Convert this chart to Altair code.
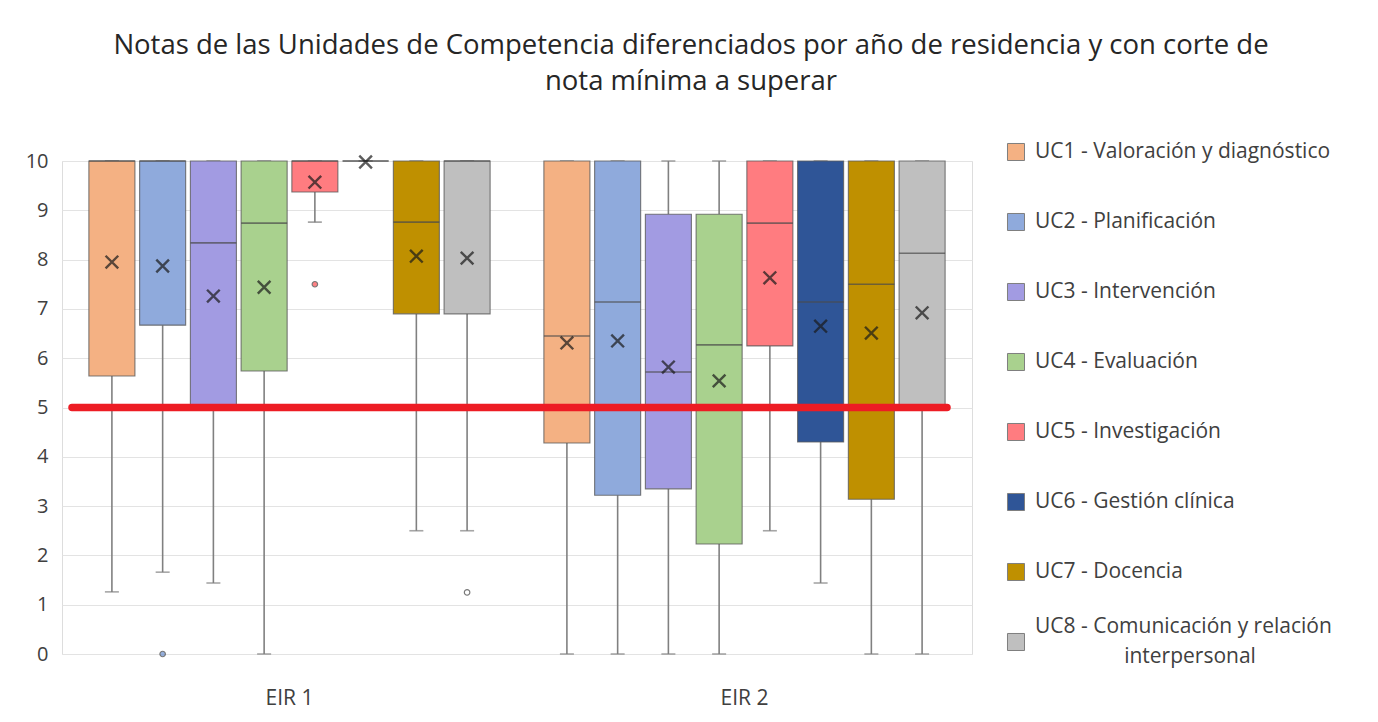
import altair as alt
import pandas as pd

groups = ["EIR 1", "EIR 2"]
ucs = [
    "UC1 - Valoración y diagnóstico",
    "UC2 - Planificación",
    "UC3 - Intervención",
    "UC4 - Evaluación",
    "UC5 - Investigación",
    "UC6 - Gestión clínica",
    "UC7 - Docencia",
    "UC8 - Comunicación y relación interpersonal",
]
legend_line1 = [
    "UC1 - Valoración y diagnóstico",
    "UC2 - Planificación",
    "UC3 - Intervención",
    "UC4 - Evaluación",
    "UC5 - Investigación",
    "UC6 - Gestión clínica",
    "UC7 - Docencia",
    "UC8 - Comunicación y relación",
]
legend_line2 = ["", "", "", "", "", "", "", "interpersonal"]
colors = ["#F4B183", "#8FAADC", "#A29BE2", "#A9D18E", "#FF7C80", "#2F5597", "#BF9000", "#BFBFBF"]
outlier_fill = ["#F4B183", "#6A8FD0", "#A29BE2", "#A9D18E", "#FF4C50", "#2F5597", "#BF9000", "#FFFFFF"]

# EIR 1 statistics
eir1_min = [1.26, 1.66, 1.44, 0.0, 8.76, 10.0, 2.5, 2.5]
eir1_q1 = [5.64, 6.67, 5.0, 5.74, 9.37, 10.0, 6.9, 6.9]
eir1_med = [10.0, 10.0, 8.34, 8.74, 10.0, 10.0, 8.76, 10.0]
eir1_q3 = [10.0, 10.0, 10.0, 10.0, 10.0, 10.0, 10.0, 10.0]
eir1_max = [10.0, 10.0, 10.0, 10.0, 10.0, 10.0, 10.0, 10.0]
eir1_mean = [7.95, 7.87, 7.26, 7.44, 9.57, 9.98, 8.07, 8.03]

# EIR 2 statistics
eir2_min = [0.0, 0.0, 0.0, 0.0, 2.5, 1.44, 0.0, 0.0]
eir2_q1 = [4.28, 3.22, 3.35, 2.23, 6.25, 4.3, 3.14, 5.0]
eir2_med = [6.45, 7.14, 5.72, 6.27, 8.74, 7.14, 7.5, 8.13]
eir2_q3 = [10.0, 10.0, 8.92, 8.92, 10.0, 10.0, 10.0, 10.0]
eir2_max = [10.0, 10.0, 10.0, 10.0, 10.0, 10.0, 10.0, 10.0]
eir2_mean = [6.31, 6.35, 5.82, 5.54, 7.63, 6.65, 6.51, 6.92]

# outliers
out_group = ["EIR 1", "EIR 1", "EIR 1"]
out_uc = [ucs[1], ucs[4], ucs[7]]
out_val = [0.0, 7.5, 1.25]

rows = []
for g, mn, q1, md, q3, mx, me in [
    ("EIR 1", eir1_min, eir1_q1, eir1_med, eir1_q3, eir1_max, eir1_mean),
    ("EIR 2", eir2_min, eir2_q1, eir2_med, eir2_q3, eir2_max, eir2_mean),
]:
    for i, u in enumerate(ucs):
        rows.append(dict(group=g, uc=u, mn=mn[i], q1=q1[i], med=md[i], q3=q3[i], mx=mx[i], mean=me[i]))
df = pd.DataFrame(rows)
df_out = pd.DataFrame(dict(group=out_group, uc=out_uc, v=out_val))
df_leg = pd.DataFrame(dict(uc=ucs, l1=legend_line1, l2=legend_line2))

FONT = "Open Sans"
TXT = "#404040"
color_scale = alt.Scale(domain=ucs, range=colors)

x_enc = alt.X("group:N", scale=alt.Scale(domain=groups, paddingInner=0, paddingOuter=0),
              axis=alt.Axis(title=None, labelAngle=0, labelFontSize=21, labelColor=TXT,
                            labelFont=FONT, ticks=False, domain=False, labelPadding=33))
xo_enc = alt.XOffset("uc:N", scale=alt.Scale(domain=ucs, paddingInner=0.093, paddingOuter=0.53))
y_scale = alt.Scale(domain=[0, 10], nice=False)
y_axis = alt.Axis(title=None, values=list(range(0, 11)), labelFontSize=20, labelColor=TXT,
                  labelFont=FONT, ticks=False, domain=False, labelPadding=14,
                  gridColor="#E3E3E3", gridWidth=1.2)

base = alt.Chart(df)
WHISK = "#808080"

whisk_lo = base.mark_rule(color=WHISK, strokeWidth=1.6).encode(
    x=x_enc, xOffset=xo_enc, y=alt.Y("mn:Q", scale=y_scale, axis=y_axis), y2="q1:Q")
whisk_hi = base.mark_rule(color=WHISK, strokeWidth=1.6).encode(
    x=x_enc, xOffset=xo_enc, y=alt.Y("q3:Q"), y2="mx:Q")
cap_lo = base.mark_tick(color=WHISK, thickness=1.6, size=14, orient="horizontal").encode(
    x=x_enc, xOffset=xo_enc, y="mn:Q")
cap_hi = base.mark_tick(color=WHISK, thickness=1.6, size=14, orient="horizontal").encode(
    x=x_enc, xOffset=xo_enc, y="mx:Q")
boxes = base.mark_bar(stroke="#5A5A5A", strokeWidth=1.1, strokeOpacity=0.8).encode(
    x=x_enc, xOffset=xo_enc, y="q1:Q", y2="q3:Q",
    color=alt.Color("uc:N", scale=color_scale, legend=None))
medians = base.mark_tick(color="#4A4A4A", thickness=1.6, size=46, orient="horizontal").encode(
    x=x_enc, xOffset=xo_enc, y="med:Q")
means = base.mark_point(shape="M-1,-1L1,1M-1,1L1,-1", filled=False, color="#1A1A1A",
                        strokeWidth=2.4, size=160).encode(
    x=x_enc, xOffset=xo_enc, y="mean:Q")
outliers = alt.Chart(df_out).mark_point(shape="circle", filled=True, size=30,
                                        stroke="#404040", strokeWidth=1.2).encode(
    x=x_enc, xOffset=xo_enc, y="v:Q",
    fill=alt.Fill("uc:N", scale=alt.Scale(domain=ucs, range=outlier_fill), legend=None))
cut = alt.Chart(pd.DataFrame(dict(v=[5]))).mark_rule(color="#ED1C24", strokeWidth=7.5, strokeCap="round").encode(
    y="v:Q", x=alt.value(10), x2=alt.value(885))

main = alt.layer(whisk_lo, whisk_hi, cap_lo, cap_hi, boxes, medians, cut, means, outliers)

# manual legend (own point scale for vertical placement)
leg_y = alt.Y("uc:N", scale=alt.Scale(type="point", domain=ucs, range=[-9, 481], padding=0), axis=None)
leg_base = alt.Chart(df_leg)
leg_sq = leg_base.mark_square(size=290, stroke="#7F7F7F", strokeWidth=1, opacity=1).encode(
    x=alt.value(954), y=leg_y, fill=alt.Fill("uc:N", scale=alt.Scale(domain=ucs, range=colors), legend=None))
leg_t1 = leg_base.transform_filter("datum.l2 == ''").mark_text(
    align="left", baseline="middle", fontSize=21, font=FONT, color=TXT).encode(
    x=alt.value(973), y=leg_y, text="l1:N")
leg_t2a = leg_base.transform_filter("datum.l2 != ''").mark_text(
    align="left", baseline="middle", fontSize=21, font=FONT, color=TXT, dy=-15).encode(
    x=alt.value(973), y=leg_y, text="l1:N")
leg_t2b = leg_base.transform_filter("datum.l2 != ''").mark_text(
    align="center", baseline="middle", fontSize=21, font=FONT, color=TXT, dy=15).encode(
    x=alt.value(1128), y=leg_y, text="l2:N")
legend = alt.layer(leg_sq, leg_t1, leg_t2a, leg_t2b)

chart = alt.layer(main, legend).resolve_scale(y="independent", fill="independent").properties(
    width=910, height=493,
    title=alt.Title(["Notas de las Unidades de Competencia diferenciados por año de residencia y con corte de",
                     "nota mínima a superar"],
                    fontSize=27.5, font=FONT, fontWeight="normal", color="#262626",
                    anchor="middle", dx=174, offset=46, lineHeight=36),
    padding={"left": 54, "top": 153, "right": 398, "bottom": 60},
    autosize=alt.AutoSizeParams(type="none"),
).configure_view(stroke=None).configure(background="white")

chart.save("out.html", embed_options={"renderer": "svg", "actions": False})
